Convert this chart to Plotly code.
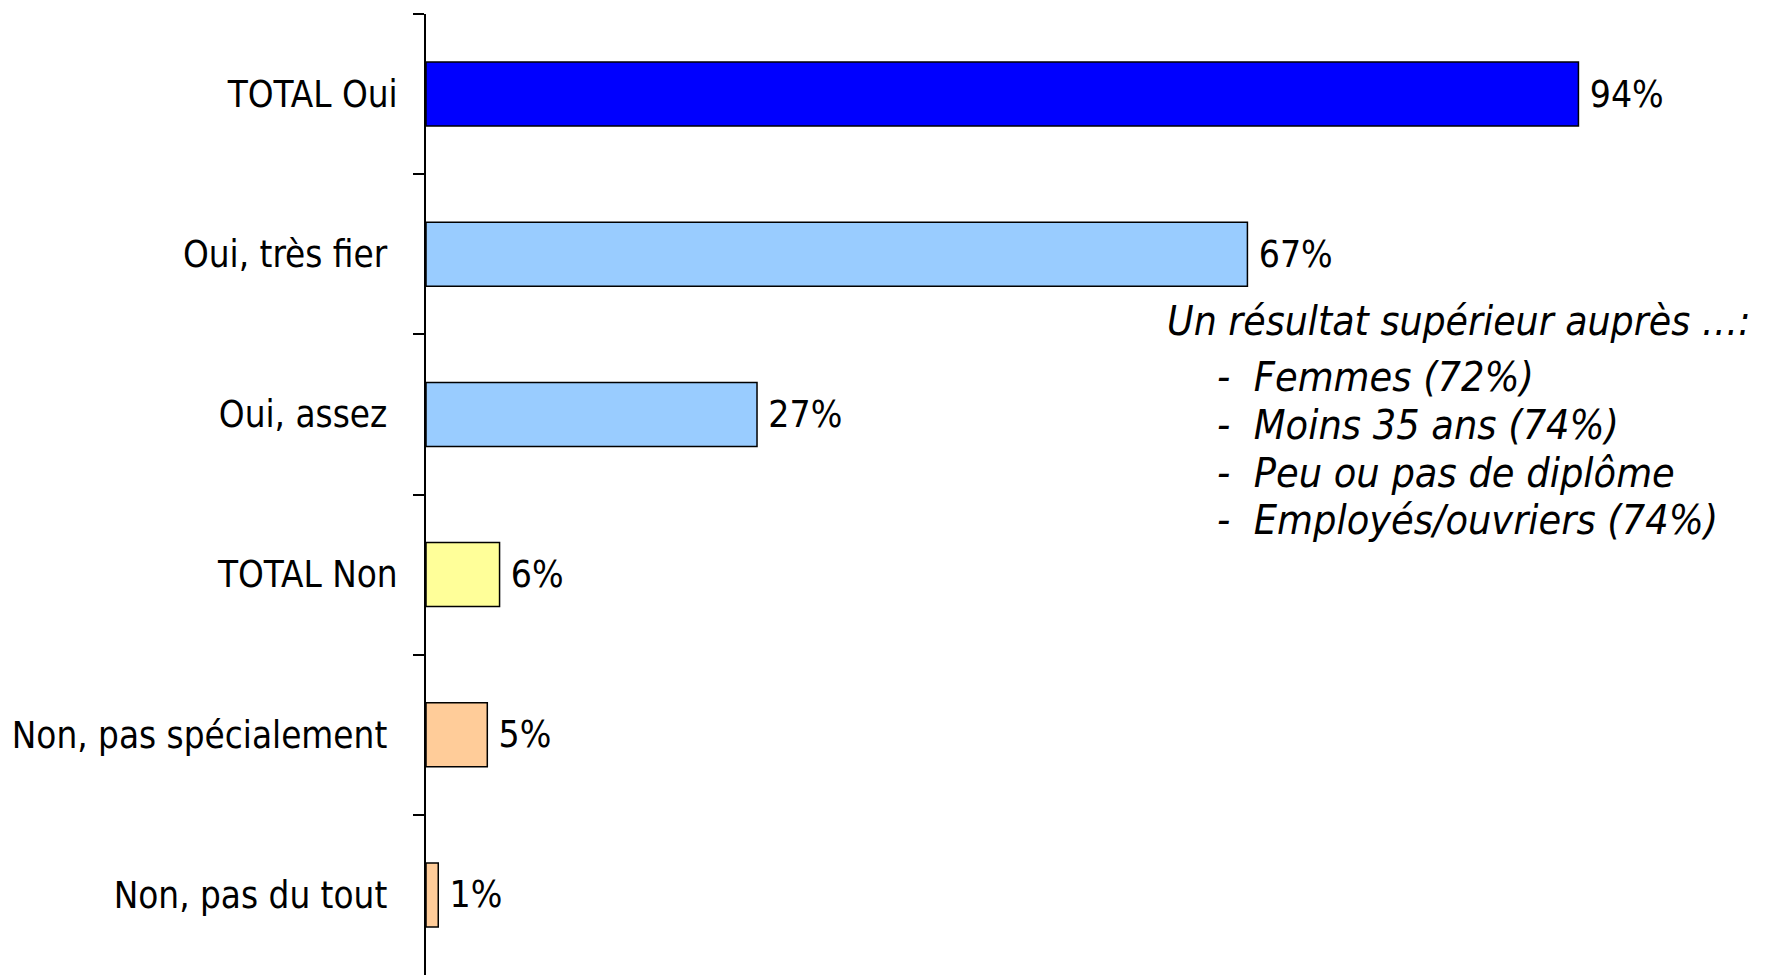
import plotly.graph_objects as go

categories = ["TOTAL Oui", "Oui, très fier\u00a0", "Oui, assez\u00a0", "TOTAL Non",
              "Non, pas spécialement\u00a0", "Non, pas du tout\u00a0"]
values = [94, 67, 27, 6, 5, 1]
colors = ["#0000FF", "#99CCFF", "#99CCFF", "#FFFF99", "#FFCC99", "#FFCC99"]

note_title = "Un résultat supérieur auprès …:"
note_lines = ["Femmes (72%)", "Moins 35 ans (74%)", "Peu ou pas de diplôme", "Employés/ouvriers (74%)"]

FONT = "DejaVu Sans Condensed, DejaVu Sans, Verdana, sans-serif"

fig = go.Figure()
fig.add_trace(go.Bar(
    x=values, y=categories, orientation="h",
    marker=dict(color=colors, line=dict(color="black", width=1.5)),
    text=[f"\u2005{v}%" for v in values],
    textposition="outside", constraintext="none", cliponaxis=False,
    textfont=dict(family=FONT, size=37, color="black"),
    hoverinfo="skip",
))

# page body has an 8px margin; figure sized so it fills the 1768x975 window
fig.update_layout(
    width=1760, height=967,
    margin=dict(l=418, r=116, t=6, b=0, autoexpand=False),
    paper_bgcolor="white", plot_bgcolor="white",
    bargap=0.6, showlegend=False,
    font=dict(family=FONT, color="black"),
    xaxis=dict(range=[0, 100], visible=False, showgrid=False, zeroline=False,
               automargin=False),
    yaxis=dict(
        type="category", categoryorder="array", categoryarray=categories,
        autorange="reversed", showline=True, linecolor="black", linewidth=2,
        ticks="outside", ticklen=11, tickwidth=2, tickcolor="black",
        tickson="boundaries", showgrid=False, zeroline=False, automargin=False,
        tickfont=dict(family=FONT, size=36.5, color="black"),
        ticklabelstandoff=19,
    ),
)

fig.add_annotation(
    text=note_title, xref="paper", yref="paper", x=0.603, y=0.6805,
    xanchor="left", yanchor="middle", showarrow=False,
    font=dict(family=FONT, size=40.5, color="black", style="italic"),
)
line_y = [0.6222, 0.5725, 0.5227, 0.4730]
for txt, yy in zip(note_lines, line_y):
    fig.add_annotation(
        text="-\u00a0\u00a0" + txt, xref="paper", yref="paper", x=0.6436, y=yy,
        xanchor="left", yanchor="middle", showarrow=False,
        font=dict(family=FONT, size=41, color="black", style="italic"),
    )

fig.write_html("out.html")
